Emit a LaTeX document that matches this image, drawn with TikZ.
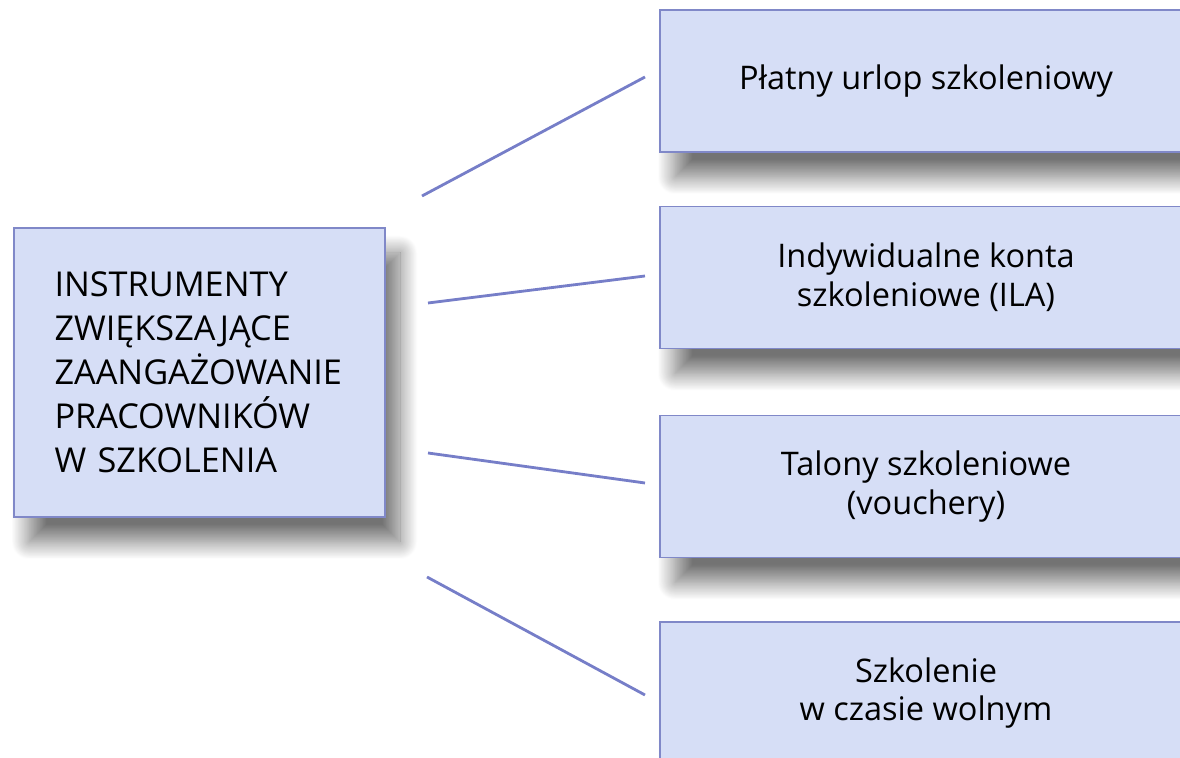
\documentclass[tikz,border=0pt]{standalone}
\usepackage{fontspec}
\setmainfont{Open Sans}
\usetikzlibrary{shadows.blur}

\definecolor{boxfill}{RGB}{214,222,246}
\definecolor{boxline}{RGB}{128,136,200}
\definecolor{linkline}{RGB}{118,126,200}

\tikzset{
  box/.style = {draw=boxline, line width=1.1pt, fill=boxfill,
                blur shadow={shadow xshift=0.3cm, shadow yshift=-0.5cm,
                             shadow blur radius=0.35cm, shadow blur steps=24,
                             shadow opacity=55},
                font=\fontsize{18.5}{22}\selectfont, inner sep=0pt},
  instrbox/.style = {box, minimum width=10.64cm, minimum height=2.84cm, align=center},
  link/.style = {draw=linkline, line width=1.6pt}
}

\begin{document}
\begin{tikzpicture}
                    \useasboundingbox (0,0) rectangle (23.6,15.16);

                    % main box
                    \node[box, minimum width=7.42cm, minimum height=5.78cm, align=left,
                          text width=5.8cm, font=\fontsize{19.5}{25}\selectfont] (main) at (3.99,7.71)
                          {INSTRUMENTY\\ ZWIĘKSZAJĄCE\\ ZAANGAŻOWANIE\\ PRACOWNIKÓW\\ W SZKOLENIA};

                    % instruments
                    \node[instrbox] (urlop)   at (18.52,13.54) {Płatny urlop szkoleniowy};
                    \node[instrbox] (konta)   at (18.52,9.61)  {Indywidualne konta\\ szkoleniowe (ILA)};
                    \node[instrbox] (talony)  at (18.52,5.43)  {Talony szkoleniowe\\ (vouchery)};
                    \node[instrbox] (wolny)   at (18.52,1.30)  {Szkolenie\\ w czasie wolnym};

                    % free ends of the links
                    \coordinate (m1) at (8.44,11.24);
                    \coordinate (m2) at (8.56,9.10);
                    \coordinate (m3) at (8.56,6.10);
                    \coordinate (m4) at (8.54,3.62);
                    \coordinate (u1) at (12.9,13.62);
                    \coordinate (u2) at (12.9,9.64);
                    \coordinate (u3) at (12.9,5.50);
                    \coordinate (u4) at (12.9,1.26);

                    \draw[link] (m1) -- (u1);
                    \draw[link] (m2) -- (u2);
                    \draw[link] (m3) -- (u3);
                    \draw[link] (m4) -- (u4);
                \end{tikzpicture}
\end{document}
